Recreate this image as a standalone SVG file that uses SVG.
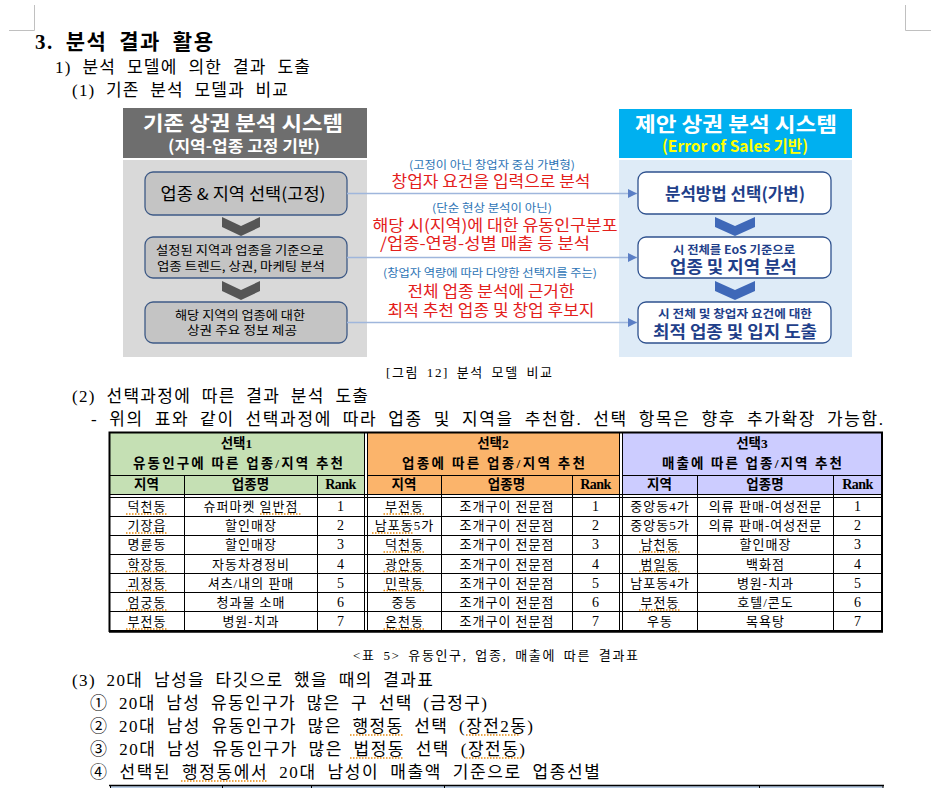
<svg xmlns="http://www.w3.org/2000/svg" width="937" height="788" viewBox="0 0 937 788">
<style>
.body{font-family:"Liberation Serif","Noto Sans CJK KR",serif;font-size:17px;fill:#000;word-spacing:5px}
.cap{font-family:"Liberation Serif","Noto Sans CJK KR",serif;font-size:13px;fill:#000;word-spacing:3px}
.fig{font-family:"Noto Sans CJK KR","Liberation Sans",sans-serif;text-anchor:middle}
.hdr{font-weight:bold;fill:#fff;font-size:20.5px}
.hdr2{font-weight:bold;font-size:16px}
.lt{fill:#000}
.rt{fill:#1f3f8a;font-weight:bold}
.blue{fill:#2e75b6;font-size:11px}
.red{fill:#e3201b;font-size:16px}
.lbox{fill:#c4c4c4;stroke:#3e5a86;stroke-width:1.3}
.rbox{fill:#fff;stroke:#2f528f;stroke-width:1.3}
.conn{stroke:#9fb6dc;stroke-width:1.6;fill:none}
.td{font-family:"Liberation Serif","Noto Sans CJK KR",serif;font-size:13px;letter-spacing:1px;text-anchor:middle;fill:#000}
.th{font-family:"Liberation Serif","Noto Sans CJK KR",serif;font-size:13.5px;font-weight:bold;text-anchor:middle;fill:#000}
.num{font-family:"Liberation Serif",serif;font-size:14px;text-anchor:middle;fill:#000}
.grid{stroke:#000;stroke-width:1;fill:none}
.ul{stroke:#e8890c;stroke-width:1.3;stroke-dasharray:1.5 1.5}
.mark{stroke:#c0c0c0;stroke-width:1;fill:none}
</style>
<defs>
<marker id="arr" markerUnits="userSpaceOnUse" markerWidth="9" markerHeight="9" refX="9" refY="4.5" orient="auto">
<path d="M0,0 L9,4.5 L0,9 z" fill="#5a7ec5"/>
</marker>
</defs>
<rect width="937" height="788" fill="#fff"/>
<!-- page corner marks -->
<path class="mark" d="M34.5,5 V30.5 H9 M905.5,5 V30.5 H931"/>

<!-- headings -->
<text x="35" y="49" class="body" style="font-size:21px;font-weight:bold" textLength="178" lengthAdjust="spacing">3. 분석 결과 활용</text>
<text x="55" y="73" class="body" textLength="255" lengthAdjust="spacing">1) 분석 모델에 의한 결과 도출</text>
<text x="72" y="96" class="body" textLength="216" lengthAdjust="spacing">(1) 기존 분석 모델과 비교</text>

<!-- figure: left panel -->
<g id="left-header">
<rect x="123" y="108" width="244" height="50" fill="#6e6e6e"/>
<text x="243" y="131" class="fig hdr" textLength="200" lengthAdjust="spacingAndGlyphs">기존 상권 분석 시스템</text>
<text x="244" y="152" class="fig hdr2" fill="#fff" textLength="152" lengthAdjust="spacingAndGlyphs">(지역-업종 고정 기반)</text>
</g>
<rect id="left-panel" x="123" y="160" width="244" height="197" fill="#d9d9d9"/>
<g id="left-box1">
<rect class="lbox" x="145" y="172" width="202" height="43" rx="8"/>
<text x="243" y="200" class="fig lt" style="font-size:16.5px" textLength="165" lengthAdjust="spacingAndGlyphs">업종 &amp; 지역 선택(고정)</text>
</g>
<g id="left-box2">
<rect class="lbox" x="145" y="237" width="202" height="41" rx="8"/>
<text x="240" y="255" class="fig lt" style="font-size:12.5px" textLength="168" lengthAdjust="spacingAndGlyphs">설정된 지역과 업종을 기준으로</text>
<text x="241" y="271" class="fig lt" style="font-size:12.5px" textLength="168" lengthAdjust="spacingAndGlyphs">업종 트렌드, 상권, 마케팅 분석</text>
</g>
<g id="left-box3">
<rect class="lbox" x="145" y="302" width="202" height="41" rx="8"/>
<text x="240" y="320" class="fig lt" style="font-size:12.5px" textLength="130" lengthAdjust="spacingAndGlyphs">해당 지역의 업종에 대한</text>
<text x="242" y="335" class="fig lt" style="font-size:12.5px" textLength="110" lengthAdjust="spacingAndGlyphs">상권 주요 정보 제공</text>
</g>
<g id="left-chevrons" fill="#555555">
<polygon points="222,217 241,226 260,217 260,227 241,236 222,227"/>
<polygon points="222,281 241,290 260,281 260,291 241,300 222,291"/>
</g>

<!-- figure: right panel -->
<g id="right-header">
<rect x="619" y="109" width="233" height="49" fill="#00b0f0"/>
<text x="736" y="132" class="fig hdr" textLength="202" lengthAdjust="spacingAndGlyphs">제안 상권 분석 시스템</text>
<text x="735" y="152" class="fig hdr2" fill="#ffff00" textLength="146" lengthAdjust="spacingAndGlyphs">(Error of Sales 기반)</text>
</g>
<rect id="right-panel" x="619" y="160" width="233" height="197" fill="#deebf7"/>
<g id="right-box1">
<rect class="rbox" x="638" y="172" width="193" height="42" rx="8"/>
<text x="735" y="200" class="fig rt" style="font-size:17px" textLength="140" lengthAdjust="spacingAndGlyphs">분석방법 선택(가변)</text>
</g>
<g id="right-box2">
<rect class="rbox" x="638" y="237" width="193" height="41" rx="8"/>
<text x="734" y="254" class="fig rt" style="font-size:11px" textLength="122" lengthAdjust="spacingAndGlyphs">시 전체를 EoS 기준으로</text>
<text x="733.5" y="273" class="fig rt" style="font-size:17px" textLength="127" lengthAdjust="spacingAndGlyphs">업종 및 지역 분석</text>
</g>
<g id="right-box3">
<rect class="rbox" x="638" y="302" width="193" height="41" rx="8"/>
<text x="735" y="318" class="fig rt" style="font-size:11.5px" textLength="154" lengthAdjust="spacingAndGlyphs">시 전체 및 창업자 요건에 대한</text>
<text x="735" y="338" class="fig rt" style="font-size:16.5px" textLength="164" lengthAdjust="spacingAndGlyphs">최적 업종 및 입지 도출</text>
</g>
<g id="right-chevrons" fill="#3f68b8">
<polygon points="715,217 735,226 755,217 755,227 735,236 715,227"/>
<polygon points="715,281 735,290 755,281 755,291 735,300 715,291"/>
</g>

<!-- connectors -->
<g id="connectors">
<line class="conn" x1="347" y1="193.5" x2="637" y2="193.5" marker-end="url(#arr)"/>
<line class="conn" x1="347" y1="257.5" x2="637" y2="257.5" marker-end="url(#arr)"/>
<line class="conn" x1="347" y1="322.5" x2="637" y2="322.5" marker-end="url(#arr)"/>
</g>

<!-- connector labels -->
<g id="label1">
<text x="492" y="169" class="fig blue" textLength="166" lengthAdjust="spacingAndGlyphs">(고정이 아닌 창업자 중심 가변형)</text>
<text x="491" y="187" class="fig red" textLength="199" lengthAdjust="spacingAndGlyphs">창업자 요건을 입력으로 분석</text>
</g>
<g id="label2">
<text x="492" y="212" class="fig blue" textLength="120" lengthAdjust="spacingAndGlyphs">(단순 현상 분석이 아닌)</text>
<text x="495" y="230.5" class="fig red" textLength="245" lengthAdjust="spacingAndGlyphs">해당 시(지역)에 대한 유동인구분포</text>
<text x="485" y="248.5" class="fig red" textLength="210" lengthAdjust="spacingAndGlyphs">/업종-연령-성별 매출 등 분석</text>
</g>
<g id="label3">
<text x="490" y="277" class="fig blue" textLength="214" lengthAdjust="spacingAndGlyphs">(창업자 역량에 따라 다양한 선택지를 주는)</text>
<text x="491" y="297" class="fig red" textLength="167" lengthAdjust="spacingAndGlyphs">전체 업종 분석에 근거한</text>
<text x="491" y="316" class="fig red" textLength="207" lengthAdjust="spacingAndGlyphs">최적 추천 업종 및 창업 후보지</text>
</g>

<text x="386" y="377" class="cap" textLength="166" lengthAdjust="spacing">[그림 12] 분석 모델 비교</text>
<text x="72" y="402" class="body" textLength="296" lengthAdjust="spacing">(2) 선택과정에 따른 결과 분석 도출</text>
<text x="91" y="425" class="body" textLength="792" lengthAdjust="spacing">- 위의 표와 같이 선택과정에 따라 업종 및 지역을 추천함. 선택 항목은 향후 추가확장 가능함.</text>

<!-- table -->
<g id="table">
<rect x="109" y="432" width="255" height="62" fill="#c5e0b4"/>
<rect x="367" y="432" width="252" height="62" fill="#fbb46b"/>
<rect x="622" y="432" width="260" height="62" fill="#ccccff"/>
<rect x="109" y="497" width="773" height="134" fill="#fff"/>
<g class="grid">
<path d="M109,475.5 H364 M367,475.5 H619 M622,475.5 H882"/>
<path d="M109,494.5 H882 M109,497.5 H882"/>
<path d="M109,516.5 H882 M109,535.5 H882 M109,554.5 H882 M109,573.5 H882 M109,592.5 H882 M109,611.5 H882"/>
<path d="M184.5,475 V631 M317.5,475 V631 M441.5,475 V631 M572.5,475 V631 M697.5,475 V631 M833.5,475 V631"/>
<path d="M364.5,432 V631 M367.5,432 V631 M619.5,432 V631 M622.5,432 V631"/>
</g>
<rect x="109.5" y="432.5" width="772.5" height="198.5" fill="none" stroke="#000" stroke-width="2"/>
<line x1="109" y1="631.5" x2="883" y2="631.5" stroke="#000" stroke-width="2.5"/>

<text x="236.5" y="448" class="th">선택1</text>
<text x="238" y="468" class="th" textLength="210" lengthAdjust="spacing">유동인구에 따른 업종/지역 추천</text>
<text x="493" y="448" class="th">선택2</text>
<text x="493.5" y="468" class="th" textLength="183" lengthAdjust="spacing">업종에 따른 업종/지역 추천</text>
<text x="752" y="448" class="th">선택3</text>
<text x="752" y="468" class="th" textLength="180" lengthAdjust="spacing">매출에 따른 업종/지역 추천</text>

<text x="146.5" y="489" class="th">지역</text>
<text x="250.5" y="489" class="th">업종명</text>
<text x="340.5" y="489" class="th" style="font-family:'Liberation Serif',serif;font-size:14px;letter-spacing:-0.5px">Rank</text>
<text x="404" y="489" class="th">지역</text>
<text x="506.5" y="489" class="th">업종명</text>
<text x="595.5" y="489" class="th" style="font-family:'Liberation Serif',serif;font-size:14px;letter-spacing:-0.5px">Rank</text>
<text x="659.5" y="489" class="th">지역</text>
<text x="765" y="489" class="th">업종명</text>
<text x="857.5" y="489" class="th" style="font-family:'Liberation Serif',serif;font-size:14px;letter-spacing:-0.5px">Rank</text>

<!-- section 1 data -->
<text x="147" y="511" class="td">덕천동</text><text x="251" y="511" class="td">슈퍼마켓 일반점</text><text x="340.5" y="511" class="num">1</text>
<text x="147" y="530" class="td">기장읍</text><text x="251" y="530" class="td">할인매장</text><text x="340.5" y="530" class="num">2</text>
<text x="147" y="549" class="td">명륜동</text><text x="251" y="549" class="td">할인매장</text><text x="340.5" y="549" class="num">3</text>
<text x="147" y="568.5" class="td">학장동</text><text x="251" y="568.5" class="td">자동차경정비</text><text x="340.5" y="568.5" class="num">4</text>
<text x="147" y="587.5" class="td">괴정동</text><text x="251" y="587.5" class="td">셔츠/내의 판매</text><text x="340.5" y="587.5" class="num">5</text>
<text x="147" y="607" class="td">엄궁동</text><text x="251" y="607" class="td">청과물 소매</text><text x="340.5" y="607" class="num">6</text>
<text x="147" y="626" class="td">부전동</text><text x="251" y="626" class="td">병원-치과</text><text x="340.5" y="626" class="num">7</text>
<!-- section 2 data -->
<text x="404.5" y="511" class="td">부전동</text><text x="507" y="511" class="td">조개구이 전문점</text><text x="595.5" y="511" class="num">1</text>
<text x="404.5" y="530" class="td">남포동5가</text><text x="507" y="530" class="td">조개구이 전문점</text><text x="595.5" y="530" class="num">2</text>
<text x="404.5" y="549" class="td">덕천동</text><text x="507" y="549" class="td">조개구이 전문점</text><text x="595.5" y="549" class="num">3</text>
<text x="404.5" y="568.5" class="td">광안동</text><text x="507" y="568.5" class="td">조개구이 전문점</text><text x="595.5" y="568.5" class="num">4</text>
<text x="404.5" y="587.5" class="td">민락동</text><text x="507" y="587.5" class="td">조개구이 전문점</text><text x="595.5" y="587.5" class="num">5</text>
<text x="404.5" y="607" class="td">중동</text><text x="507" y="607" class="td">조개구이 전문점</text><text x="595.5" y="607" class="num">6</text>
<text x="404.5" y="626" class="td">온천동</text><text x="507" y="626" class="td">조개구이 전문점</text><text x="595.5" y="626" class="num">7</text>
<!-- section 3 data -->
<text x="660" y="511" class="td">중앙동4가</text><text x="765.5" y="511" class="td">의류 판매-여성전문</text><text x="857.5" y="511" class="num">1</text>
<text x="660" y="530" class="td">중앙동5가</text><text x="765.5" y="530" class="td">의류 판매-여성전문</text><text x="857.5" y="530" class="num">2</text>
<text x="660" y="549" class="td">남천동</text><text x="765.5" y="549" class="td">할인매장</text><text x="857.5" y="549" class="num">3</text>
<text x="660" y="568.5" class="td">범일동</text><text x="765.5" y="568.5" class="td">백화점</text><text x="857.5" y="568.5" class="num">4</text>
<text x="660" y="587.5" class="td">남포동4가</text><text x="765.5" y="587.5" class="td">병원-치과</text><text x="857.5" y="587.5" class="num">5</text>
<text x="660" y="607" class="td">부전동</text><text x="765.5" y="607" class="td">호텔/콘도</text><text x="857.5" y="607" class="num">6</text>
<text x="660" y="626" class="td">우동</text><text x="765.5" y="626" class="td">목욕탕</text><text x="857.5" y="626" class="num">7</text>

<!-- spell-check underlines -->
<path class="ul" d="M126,514 H168 M126,533 H168 M126,571.5 H168 M126,590.5 H168 M126,610 H168 M126,629 H168 M260,514 H301
M383.5,514 H425.5 M372,533 H414 M383.5,552 H425.5 M383.5,571.5 H425.5 M383.5,590.5 H425.5 M383.5,629 H425.5
M639,552 H681 M639,571.5 H681 M639,610 H681"/>
</g>

<text x="353" y="660" class="cap" textLength="285" lengthAdjust="spacing">&lt;표 5&gt; 유동인구, 업종, 매출에 따른 결과표</text>
<text x="72" y="686" class="body" textLength="361" lengthAdjust="spacing">(3) 20대 남성을 타깃으로 했을 때의 결과표</text>
<text x="90" y="709" class="body" textLength="397" lengthAdjust="spacing">① 20대 남성 유동인구가 많은 구 선택 (금정구)</text>
<text x="90" y="732" class="body" textLength="443" lengthAdjust="spacing">② 20대 남성 유동인구가 많은 행정동 선택 (장전2동)</text>
<text x="90" y="755" class="body" textLength="435" lengthAdjust="spacing">③ 20대 남성 유동인구가 많은 법정동 선택 (장전동)</text>
<text x="90" y="778" class="body" textLength="510" lengthAdjust="spacing">④ 선택된 행정동에서 20대 남성이 매출액 기준으로 업종선별</text>
<path class="ul" d="M350,735 H404 M466,735 H520 M350,758 H404 M466,758 H522 M181,781 H268"/>

<!-- next table (cut off) -->
<g id="table2">
<rect x="110" y="786" width="773" height="2" fill="#b8cce4"/>
<line x1="109" y1="785.5" x2="884" y2="785.5" stroke="#000" stroke-width="1.5"/>
<path class="grid" d="M222.5,786 V788 M311.5,786 V788 M444.5,786 V788 M759.5,786 V788 M110.5,786 V788 M883,786 V788"/>
</g>
</svg>
